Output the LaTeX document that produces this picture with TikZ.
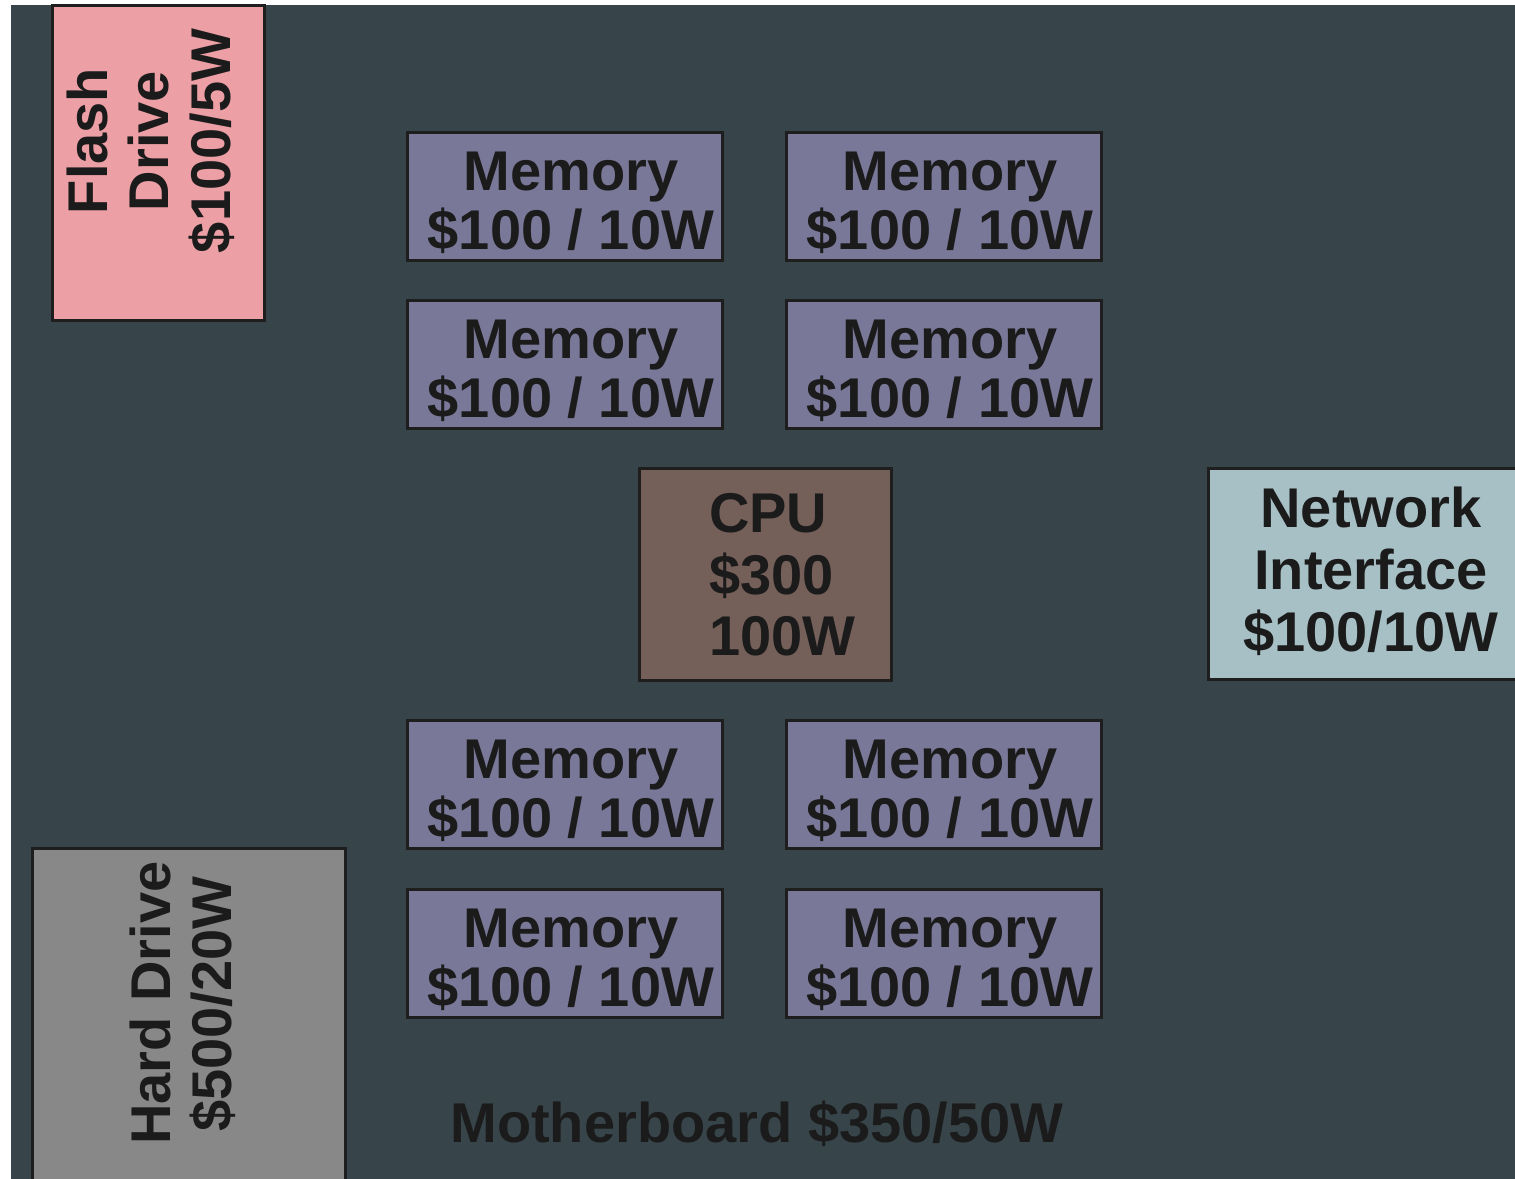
\documentclass[tikz,border=0pt]{standalone}
\usepackage{fontspec}
\setmainfont{Liberation Sans}
\definecolor{board}{HTML}{37454A}
\definecolor{edge}{HTML}{1E1E1E}
\definecolor{ink}{HTML}{1B1B1B}
\definecolor{memfill}{HTML}{7A7898}
\definecolor{cpufill}{HTML}{745F59}
\definecolor{netfill}{HTML}{A7C0C6}
\definecolor{flashfill}{HTML}{EC9FA5}
\definecolor{hddfill}{HTML}{888888}
\begin{document}
\begin{tikzpicture}[x=1pt,y=1pt,
  part/.style={draw=edge, line width=3pt, anchor=north west, inner sep=0pt, outer sep=0pt},
  mem/.style={part, fill=memfill, minimum width=315pt, minimum height=128pt},
  txt/.style={font=\fontsize{56}{61}\selectfont\bfseries, text=ink, inner sep=0pt, anchor=base}]
\useasboundingbox (0,0) rectangle (1515,-1178);
\clip (0,0) rectangle (1515,-1178);
\fill[white] (0,0) rectangle (1515,-1178);

% motherboard
\node[anchor=north west, fill=board, inner sep=0pt, minimum width=1520pt, minimum height=1190pt] (board) at (11,-5) {};
\node[txt] (mb) at (757,-1142) {Motherboard \$350/50W};

% flash drive (top left)
\node[part, fill=flashfill, minimum width=212pt, minimum height=315pt] (flash) at (52,-5) {};
\node[txt, rotate=90] (flash-a) at (107,-141) {Flash};
\node[txt, rotate=90] (flash-b) at (168,-141) {Drive};
\node[txt, rotate=90] (flash-c) at (230,-141) {\$100/5W};

% hard drive (bottom left)
\node[part, fill=hddfill, minimum width=313pt, minimum height=360pt] (hdd) at (32,-848) {};
\node[txt, rotate=90] (hdd-a) at (170,-1003) {Hard Drive};
\node[txt, rotate=90] (hdd-b) at (231,-1004) {\$500/20W};

% memory modules
\foreach \n/\x/\y in {1/407/132, 2/786/132, 3/407/300, 4/786/300,
                      5/407/720, 6/786/720, 7/407/889, 8/786/889} {
  \node[mem] (mem\n) at (\x,-\y) {};
  \node[txt] (mem\n-a) at ([xshift=164pt, yshift=-58pt]mem\n.north west) {Memory};
  \node[txt] (mem\n-b) at ([xshift=164pt, yshift=-117pt]mem\n.north west) {\$100 / 10W};
}

% CPU
\node[part, fill=cpufill, minimum width=252pt, minimum height=212pt] (cpu) at (639,-468) {};
\node[txt, anchor=base west] (cpu-a) at (709,-532) {CPU};
\node[txt, anchor=base west] (cpu-b) at (709,-594) {\$300};
\node[txt, anchor=base west] (cpu-c) at (709,-655) {100W};

% network interface (right)
\node[part, fill=netfill, minimum width=340pt, minimum height=211pt] (nic) at (1208,-468) {};
\node[txt] (nic-a) at (1371,-527) {Network};
\node[txt] (nic-b) at (1371,-589) {Interface};
\node[txt] (nic-c) at (1371,-651) {\$100/10W};
\end{tikzpicture}
\end{document}
